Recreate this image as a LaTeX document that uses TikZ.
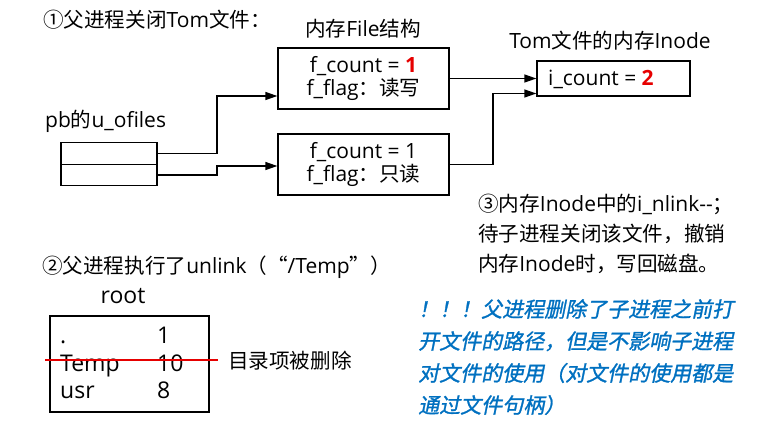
\documentclass[tikz,border=0pt]{standalone}
\usepackage{fontspec}
\setmainfont{Open Sans}
\newfontfamily\cjk{Noto Sans CJK SC}[Scale=0.98]
\newfontfamily\blueit{Noto Sans CJK SC}[FakeSlant=0.2,FakeBold=1.2]
\usetikzlibrary{arrows.meta,calc}
\definecolor{noteblue}{RGB}{0,112,192}
\definecolor{hired}{RGB}{230,0,0}
\tikzset{
  txt/.style={inner sep=0pt,font=\fontsize{21}{23}\selectfont},
  bigtxt/.style={inner sep=0pt,font=\fontsize{23}{25}\selectfont},
  boxnode/.style={draw,line width=1.3pt,inner sep=0pt,align=center,font=\fontsize{21}{23}\selectfont},
  cellnode/.style={draw,line width=1.3pt,minimum width=96pt,minimum height=21.5pt,inner sep=0pt},
  arr/.style={line width=1.3pt,-{Triangle[length=12pt,width=8pt]}},
}
\newcommand{\rednum}[1]{{\bfseries\color{hired}#1}}
\begin{document}
\begin{tikzpicture}[x=1pt,y=-1pt]
\useasboundingbox (0,0) rectangle (762,429);
% titles
\node[txt,anchor=west] (t1) at (43,20) {{\cjk ①父进程关闭}Tom{\cjk 文件：}};
\node[txt] (tfile) at (363,29) {{\cjk 内存}File{\cjk 结构}};
\node[txt] (tinode) at (610,41) {Tom{\cjk 文件的内存}Inode};
\node[txt,anchor=west] (tpb) at (45,121) {pb{\cjk 的}u\_ofiles};
% file boxes
\node[boxnode,minimum width=171pt,minimum height=61pt] (box1) at (363.5,78.5) {f\_count = \rednum{1}\\f\_flag{\cjk ：读写}};
\node[boxnode,minimum width=171pt,minimum height=61pt] (box2) at (363.5,164.5) {f\_count = 1\\f\_flag{\cjk ：只读}};
% inode box
\node[draw,line width=1.3pt,minimum width=153pt,minimum height=35pt,inner sep=0pt] (inode) at (613.5,78.5) {};
\node[txt,anchor=west] (icount) at (548,79) {i\_count = \rednum{2}};
% u_ofiles cells
\node[cellnode] (cell1) at (109,153.5) {};
\node[cellnode] (cell2) at (109,175) {};
% connectors
\coordinate (j1) at (217,0);
\coordinate (a1) at ($(box1.west)+(0,17.5)$);
\coordinate (a2) at ($(box2.west)+(0,1.5)$);
\draw[arr] (cell1.east) -- (cell1.east -| j1) |- (a1);
\draw[arr] (cell2.east) -- (cell2.east -| j1) |- (a2);
\coordinate (j2) at (493,0);
\coordinate (b2) at ($(inode.west)+(0,15)$);
\draw[arr] (box1.east) -- (box1.east -| inode.west);
\draw[arr] (box2.east) -- (box2.east -| j2) |- (b2);
% note 3
\node[inner sep=0pt,anchor=north west,align=left,font=\fontsize{21}{30}\selectfont] (n3) at (478,194) {{\cjk ③内存}Inode{\cjk 中的}i\_nlink-{}-{\cjk ；}\\{\cjk 待子进程关闭该文件，撤销}\\{\cjk 内存}Inode{\cjk 时，写回磁盘。}};
% part 2
\node[txt,anchor=west] (t2) at (42,267) {{\cjk ②父进程执行了}unlink{\cjk （“}/Temp{\cjk ”）}};
\node[bigtxt] (troot) at (123,296) {root};
\node[draw,line width=1.3pt,minimum width=159pt,minimum height=96pt,inner sep=0pt] (rootbox) at (129.5,364) {};
\node[bigtxt,anchor=base west] (e1) at (60,343) {.};
\node[bigtxt,anchor=base west] (e2) at (60,371) {Temp};
\node[bigtxt,anchor=base west] (e3) at (60,398) {usr};
\node[bigtxt,anchor=base west] (v1) at (157,343) {1};
\node[bigtxt,anchor=base west] (v2) at (157,371) {10};
\node[bigtxt,anchor=base west] (v3) at (157,398) {8};
\coordinate (s1) at (45,360);
\coordinate (s2) at (218,360);
\draw[hired,line width=2pt] (s1) -- (s2);
\node[txt,anchor=west] (tdel) at (228,361) {{\cjk 目录项被删除}};
% blue note
\node[inner sep=0pt,anchor=north west,align=left,text=noteblue,font=\blueit\fontsize{21}{32}\selectfont] (nb) at (418,299) {！！！父进程删除了子进程之前打\\开文件的路径，但是不影响子进程\\对文件的使用（对文件的使用都是\\通过文件句柄）};
\end{tikzpicture}
\end{document}
